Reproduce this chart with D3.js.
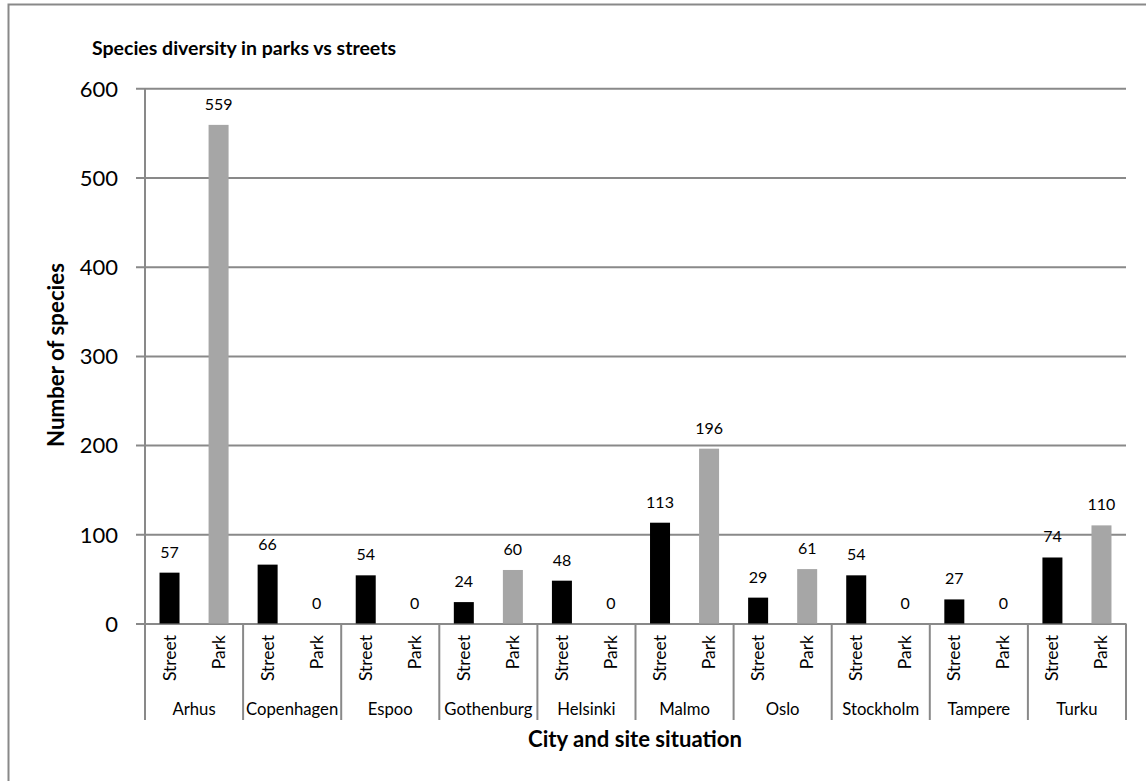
<!DOCTYPE html>
<html>
<head>
<meta charset="utf-8">
<script src="https://cdn.jsdelivr.net/npm/d3@7"></script>
<style>
  html, body { margin: 0; padding: 0; background: #fff; }
  svg { display: block; }
  text { font-family: Lato, "Open Sans", sans-serif; fill: #000; }
</style>
</head>
<body>
<svg id="chart" width="1146" height="781"></svg>
<script>
const cities = ["Arhus", "Copenhagen", "Espoo", "Gothenburg", "Helsinki", "Malmo", "Oslo", "Stockholm", "Tampere", "Turku"];
const sites = ["Street", "Park"];
const streetValues = [57, 66, 54, 24, 48, 113, 29, 54, 27, 74];
const parkValues = [559, 0, 0, 60, 0, 196, 61, 0, 0, 110];
const yTicks = [0, 100, 200, 300, 400, 500, 600];
const title = "Species diversity in parks vs streets";
const yTitle = "Number of species";
const xTitle = "City and site situation";

const siteColors = { Street: "#000000", Park: "#a6a6a6" };
const lineColor = "#898989";

const svg = d3.select("#chart");

const plotLeft = 145, plotRight = 1126, plotTop = 88.3, plotBottom = 623.5, sepBottom = 720;

function fitWidth(sel, target) {
  const node = sel.node();
  const fs = parseFloat(sel.attr("font-size"));
  const w = node.getComputedTextLength();
  if (w > 0) sel.attr("font-size", (fs * target / w).toFixed(2));
  return sel;
}

// outer frame
svg.append("rect")
  .attr("x", 8.5).attr("y", 4.5)
  .attr("width", 1160).attr("height", 800)
  .attr("fill", "none").attr("stroke", lineColor).attr("stroke-width", 2);

const y = d3.scaleLinear().domain([0, 600]).range([plotBottom, plotTop]);
const x0 = d3.scaleBand().domain(cities).range([plotLeft, plotRight]).padding(0);
const x1 = d3.scaleBand().domain(sites).range([0, x0.bandwidth()]).padding(0);
const barW = 20;

// gridlines + ticks (y axis)
const yAxis = d3.axisLeft(y).tickValues(yTicks).tickSize(-(plotRight - plotLeft)).tickSizeOuter(0).tickFormat(d3.format("d"));
const gy = svg.append("g").attr("transform", `translate(${plotLeft},0)`).call(yAxis);
gy.select(".domain").remove();
gy.selectAll(".tick line").attr("stroke", lineColor).attr("stroke-width", 2).attr("x1", -9);
gy.selectAll(".tick text").attr("font-size", 22).attr("x", -27).attr("dy", "0.35em")
  .style("font-family", "Lato, sans-serif").attr("fill", "#000");

// y axis line
svg.append("line").attr("x1", plotLeft).attr("x2", plotLeft).attr("y1", plotTop).attr("y2", sepBottom)
  .attr("stroke", lineColor).attr("stroke-width", 2);

// category separators
const seps = cities.map(c => x0(c) + x0.bandwidth());
svg.append("g").selectAll("line").data(seps).join("line")
  .attr("x1", d => d).attr("x2", d => d).attr("y1", plotBottom).attr("y2", sepBottom)
  .attr("stroke", lineColor).attr("stroke-width", 2);

// bars
const rows = cities.map((c, i) => ({ city: c, values: [
  { site: "Street", value: streetValues[i] },
  { site: "Park", value: parkValues[i] }
]}));

const groups = svg.append("g").selectAll("g").data(rows).join("g")
  .attr("transform", d => `translate(${x0(d.city)},0)`);

groups.selectAll("rect").data(d => d.values).join("rect")
  .attr("x", d => x1(d.site) + (x1.bandwidth() - barW) / 2)
  .attr("width", barW)
  .attr("y", d => y(d.value))
  .attr("height", d => y(0) - y(d.value))
  .attr("fill", d => siteColors[d.site]);

// data labels
groups.selectAll("text.val").data(d => d.values).join("text")
  .attr("class", "val")
  .attr("x", d => x1(d.site) + x1.bandwidth() / 2)
  .attr("y", d => y(d.value) - 15)
  .attr("text-anchor", "middle")
  .attr("font-size", 16)
  .text(d => d.value);

// site labels (rotated)
groups.selectAll("text.site").data(d => d.values).join("text")
  .attr("class", "site")
  .attr("transform", d => `translate(${x1(d.site) + x1.bandwidth() / 2 + 6},635) rotate(-90)`)
  .attr("text-anchor", "end")
  .attr("font-size", 17.5)
  .text(d => d.site);

// city labels
groups.append("text")
  .attr("x", x0.bandwidth() / 2)
  .attr("y", 715)
  .attr("text-anchor", "middle")
  .attr("font-size", 16.7)
  .text(d => d.city);

// titles
fitWidth(svg.append("text").attr("x", 92).attr("y", 55).attr("font-size", 18).attr("font-weight", "bold").text(title), 304);
fitWidth(svg.append("text").attr("transform", `translate(64,355) rotate(-90)`)
  .attr("text-anchor", "middle").attr("font-size", 18).attr("font-weight", "bold").text(yTitle), 184);
fitWidth(svg.append("text").attr("x", 635).attr("y", 747).attr("text-anchor", "middle")
  .attr("font-size", 19).attr("font-weight", "bold").text(xTitle), 214);
</script>
</body>
</html>
